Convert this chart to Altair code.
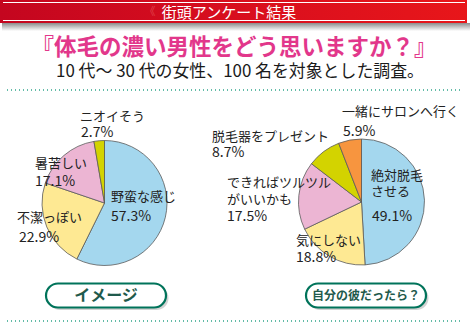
import altair as alt
import pandas as pd

W, H = 470, 330
FONT = "Noto Sans CJK JP"

header_text = "街頭アンケート結果"
title_text = "『体毛の濃い男性をどう思いますか？』"
subtitle_text = "10 代〜 30 代の女性、100 名を対象とした調査。"

left_cats = ["野蛮な感じ", "不潔っぽい", "暑苦しい", "ニオイそう"]
left_vals = [57.3, 22.9, 17.1, 2.7]
left_colors = ["#a4d7ee", "#fee993", "#ecb5d3", "#d3d300"]
left_label_lines = [["野蛮な感じ"], ["不潔っぽい"], ["暑苦しい"], ["ニオイそう"]]
left_button = "イメージ"

right_cats = ["絶対脱毛させる", "気にしない", "できればツルツルがいいかも",
              "脱毛器をプレゼント", "一緒にサロンへ行く"]
right_vals = [49.1, 18.8, 17.5, 8.7, 5.9]
right_colors = ["#a4d7ee", "#fee993", "#ecb5d3", "#d3d300", "#f7953f"]
right_label_lines = [["絶対脱毛", "させる"], ["気にしない"], ["できればツルツル", "がいいかも"],
                     ["脱毛器をプレゼント"], ["一緒にサロンへ行く"]]
right_button = "自分の彼だったら？"

# layout (pixel positions of label lines: x of name, x of pct, y of each line)
left_layout = [(111, 111, [197, 217]), (17, 19, [218, 238]), (35, 35, [164, 182]), (80, 81, [117, 133])]
right_layout = [(371, 372, [176, 192, 217]), (296, 296, [241, 257.5]), (227, 227, [183, 200, 217]),
                (212, 212, [136.5, 152.5]), (342, 343, [112, 132])]

one = pd.DataFrame({"k": [0]})


def txt(s, x, y, size=13, color="#222222", weight="normal", align="left", opacity=1.0):
    return alt.Chart(one).mark_text(
        text=s, font=FONT, fontSize=size, color=color, fontWeight=weight,
        align=align, baseline="middle", opacity=opacity
    ).encode(x=alt.value(x), y=alt.value(y))


def rect(x1, x2, y1, y2, **kw):
    return alt.Chart(one).mark_rect(**kw).encode(
        x=alt.value(x1), x2=alt.value(x2), y=alt.value(y1), y2=alt.value(y2))


def rule(x1, x2, y, **kw):
    return alt.Chart(one).mark_rule(**kw).encode(x=alt.value(x1), x2=alt.value(x2), y=alt.value(y))


def pie(cats, vals, colors, cx, cy, r):
    df = pd.DataFrame({"cat": cats, "val": vals, "ord": list(range(len(cats)))})
    return alt.Chart(df).mark_arc(radius=r, stroke="#5a5a5a", strokeWidth=0.8).encode(
        theta=alt.Theta("val:Q", stack=True),
        color=alt.Color("cat:N", scale=alt.Scale(domain=cats, range=colors), legend=None),
        order=alt.Order("ord:Q"),
        x=alt.value(cx), y=alt.value(cy),
    )


def labels(lines_list, vals, layout):
    out = []
    for lines, v, (xn, xp, ys) in zip(lines_list, vals, layout):
        for ln, y in zip(lines, ys):
            out.append(txt(ln, xn, y, size=13))
        out.append(txt(f"{v}%", xp, ys[-1], size=14))
    return out


def button(s, x1, x2, y1, y2, size):
    return [
        rect(x1 + 2, x2 + 2.5, y1 + 2.5, y2 + 2.5, color="#c8c8c8", cornerRadius=12, opacity=0.8),
        rect(x1, x2, y1, y2, fill="white", stroke="#00735a", strokeWidth=2.2, cornerRadius=12),
        txt(s, (x1 + x2) / 2, (y1 + y2) / 2 + 0.5, size=size, color="#1f5a4c", weight="bold", align="center"),
    ]


red_grad = alt.LinearGradient(
    gradient="linear", x1=0, x2=1, y1=0, y2=0,
    stops=[alt.GradientStop(color="#c4061f", offset=0),
           alt.GradientStop(color="#d80e1e", offset=0.5),
           alt.GradientStop(color="#e8161a", offset=1)])
shadow_grad = alt.LinearGradient(
    gradient="linear", x1=0, x2=0, y1=0, y2=1,
    stops=[alt.GradientStop(color="#8c8c8c", offset=0),
           alt.GradientStop(color="#ffffff", offset=1)])

layers = [
    rect(2, 470, 23, 31, color=shadow_grad),
    rect(0, 467, 0, 23, color=red_grad),
    rule(3, 465, 2.5, color="white", strokeWidth=1),
    rule(3, 465, 20.5, color="white", strokeWidth=1),
    txt("《", 150, 12, size=11, color="#f08080", align="center", opacity=0.45),
    txt(header_text, 229, 12.5, size=15, color="white", align="center"),
    txt(title_text, 234, 48, size=22.5, color="#e2378b", weight="bold", align="center"),
    txt(subtitle_text, 240, 72, size=16.9, color="#1a1a1a", align="center"),
    rule(7, 463, 90, color="#2fa58a", strokeWidth=1.3, strokeDash=[1, 3]),
    rule(7, 463, 321, color="#2fa58a", strokeWidth=1.3, strokeDash=[1, 3]),
    pie(left_cats, left_vals, left_colors, 104.5, 203, 62.5),
    pie(right_cats, right_vals, right_colors, 361.5, 202, 63),
]
layers += labels(left_label_lines, left_vals, left_layout)
layers += labels(right_label_lines, right_vals, right_layout)
layers += button(left_button, 46, 166, 283.5, 307.5, 16)
layers += button(right_button, 306, 426, 283.5, 307.5, 12)

chart = alt.layer(*layers).resolve_scale(color="independent", theta="independent").properties(
    width=W, height=H, autosize="none", padding=0
).configure_view(stroke=None)

chart.save("out.html", embed_options={"renderer": "svg", "actions": False})
